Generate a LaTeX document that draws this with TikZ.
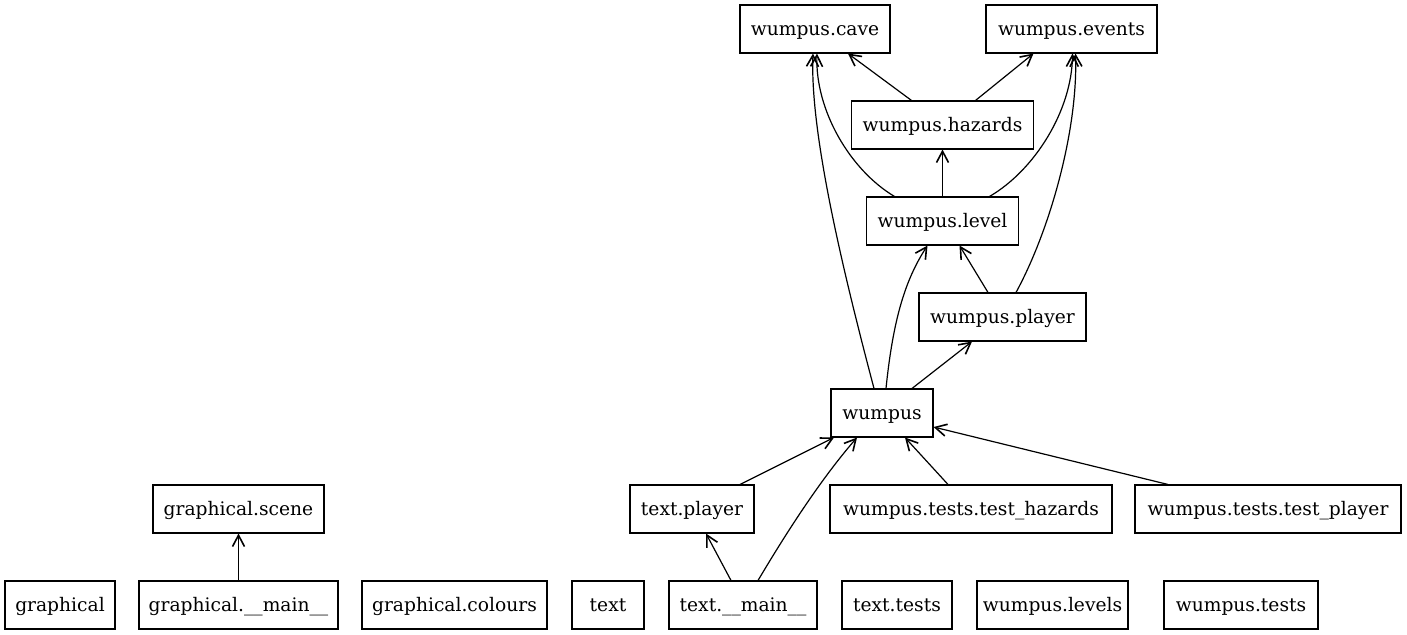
\documentclass[tikz,border=0pt]{standalone}
\usepackage{fontspec}
\setmainfont{DejaVu Serif}
\usetikzlibrary{arrows.meta,calc}
\begin{document}
\begin{tikzpicture}[x=0.75pt,y=-0.75pt,
  box/.style={draw,line width=0.8pt,minimum height=36pt,inner xsep=0pt,inner ysep=0pt,text height=11pt,text depth=1pt,font=\fontsize{14pt}{16pt}\selectfont},
  arr/.style={line width=0.9pt,-{Straight Barb[length=8.5pt,width=9pt,line width=1.2pt]}}]
\useasboundingbox (0,0) rectangle (1407,635);
% nodes
\node[box,minimum width=112.5pt] (cave) at (815,29) {wumpus.cave};
\node[box,minimum width=128.25pt] (ev) at (1071.5,29) {wumpus.events};
\node[box,minimum width=136.5pt] (haz) at (942.5,125) {wumpus.hazards};
\node[box,minimum width=114pt] (lvl) at (942.5,221) {wumpus.level};
\node[box,minimum width=125.25pt] (wpl) at (1002.5,317) {wumpus.player};
\node[box,minimum width=76.5pt] (wum) at (882,413) {wumpus};
\node[box,minimum width=128.25pt] (gsc) at (238.5,509) {graphical.scene};
\node[box,minimum width=93pt] (tpl) at (692,509) {text.player};
\node[box,minimum width=211.5pt] (wth) at (971,509) {wumpus.tests.test\_hazards};
\node[box,minimum width=199.5pt] (wtp) at (1268,509) {wumpus.tests.test\_player};
\node[box,minimum width=82.5pt] (gra) at (60,605) {graphical};
\node[box,minimum width=149.25pt] (gmain) at (238.5,605) {graphical.\_\_main\_\_};
\node[box,minimum width=138.75pt] (gcol) at (454.5,605) {graphical.colours};
\node[box,minimum width=54pt] (txt) at (608,605) {text};
\node[box,minimum width=111pt] (tmain) at (743,605) {text.\_\_main\_\_};
\node[box,minimum width=82.5pt] (ttest) at (897,605) {text.tests};
\node[box,minimum width=113.25pt] (wlev) at (1052.5,605) {wumpus.levels};
\node[box,minimum width=115.5pt] (wtests) at (1241,605) {wumpus.tests};
% edges
\draw[arr] ($(haz.north)+(-31,0)$) -- ($(cave.south)+(33,0)$);
\draw[arr] ($(haz.north)+(33,0)$) -- ($(ev.south)+(-38,0)$);
\draw[arr] ($(lvl.north)+(-48,0)$) .. controls (850,170) and (815,110) .. ($(cave.south)+(2,0)$);
\draw[arr] (lvl.north) -- (haz.south);
\draw[arr] ($(lvl.north)+(47,0)$) .. controls (1035,170) and (1072,110) .. ($(ev.south)+(1,0)$);
\draw[arr] ($(wpl.north)+(-14.5,0)$) -- ($(lvl.south)+(17,0)$);
\draw[arr] ($(wpl.north)+(13.5,0)$) .. controls (1050,230) and (1078,130) .. ($(ev.south)+(4,0)$);
\draw[arr] ($(wum.north)+(-8,0)$) .. controls (840,260) and (810,130) .. ($(cave.south)+(-2,0)$);
\draw[arr] ($(wum.north)+(4,0)$) .. controls (893,320) and (905,280) .. ($(lvl.south)+(-15,0)$);
\draw[arr] ($(wum.north)+(30,0)$) -- ($(wpl.south)+(-30.5,0)$);
\draw[arr] ($(tpl.north)+(48,0)$) -- ($(wum.south)+(-48,0)$);
\draw[arr] ($(tmain.north)+(15,0)$) .. controls (785,535) and (820,480) .. ($(wum.south)+(-25,0)$);
\draw[arr] ($(tmain.north)+(-12,0)$) -- ($(tpl.south)+(14,0)$);
\draw[arr] ($(wth.north)+(-23,0)$) -- ($(wum.south)+(23,0)$);
\draw[arr] ($(wtp.north)+(-100,0)$) -- ($(wum.east)+(0,14)$);
\draw[arr] (gmain.north) -- (gsc.south);
\end{tikzpicture}
\end{document}
